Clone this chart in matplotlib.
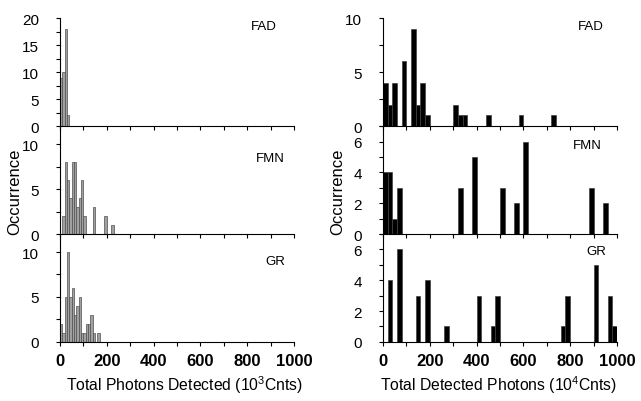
import numpy as np
import matplotlib
matplotlib.use("Agg")
import matplotlib.pyplot as plt
from matplotlib.ticker import MultipleLocator

plt.rcParams['font.family'] = ['Liberation Sans', 'DejaVu Sans']
plt.rcParams['mathtext.default'] = 'regular'

# left column: 10^3 counts, bins of width 10
left_bin = 10
fad_left = [9, 10, 18, 2]
fmn_left = [0, 2, 8, 6, 4, 8, 8, 3, 4, 6, 2, 0, 0, 0, 3, 0, 0, 0, 0, 2, 0, 0, 1]
gr_left = [2, 1, 5, 10, 5, 6, 3, 4, 5, 1, 1, 2, 2, 3, 1, 0, 1]

# right column: 10^4 counts, bins of width 20 (left edge, count)
right_bin = 20
fad_right_x = [0, 20, 40, 80, 120, 140, 160, 180, 300, 320, 340, 440, 580, 720]
fad_right_n = [4, 2, 4, 6, 9, 2, 4, 1, 2, 1, 1, 1, 1, 1]
fmn_right_x = [0, 20, 40, 60, 320, 380, 500, 560, 600, 880, 940]
fmn_right_n = [4, 4, 1, 3, 3, 5, 3, 2, 6, 3, 2]
gr_right_x = [20, 60, 140, 180, 260, 400, 460, 480, 760, 780, 900, 960, 980]
gr_right_n = [4, 6, 3, 4, 1, 3, 1, 3, 1, 3, 5, 3, 1]

names = ["FAD", "FMN", "GR"]


def style(ax, ymax, major, minor, bottom):
    ax.patch.set_visible(False)
    ax.set_xlim(0, 1000)
    ax.set_ylim(0, ymax)
    ax.spines['top'].set_visible(False)
    ax.spines['right'].set_visible(False)
    ax.xaxis.set_major_locator(MultipleLocator(200))
    ax.xaxis.set_minor_locator(MultipleLocator(100))
    ax.yaxis.set_major_locator(MultipleLocator(major))
    ax.yaxis.set_minor_locator(MultipleLocator(minor))
    ax.tick_params(which='both', direction='out', length=3, width=0.8)
    ax.tick_params(axis='y', labelsize=11, pad=12)
    if bottom:
        ax.tick_params(axis='x', labelsize=12, pad=5)
        for t in ax.get_xticklabels():
            t.set_fontweight('bold')
    else:
        ax.tick_params(axis='x', labelbottom=False)


fig = plt.figure(figsize=(6.41, 4.02), dpi=100)
x0_left, x0_right, w = 0.0936, 0.5975, 0.365
bot, h = 0.147, 0.2683

left_data = [fad_left, fmn_left, gr_left]
left_ymax = [20, 12, 12]
left_major = [5, 5, 5]
left_minor = [2.5, 2.5, 2.5]
left_lab = [(0.87, 0.93), (0.90, 0.705), (0.92, 0.75)]

right_data = [(fad_right_x, fad_right_n), (fmn_right_x, fmn_right_n), (gr_right_x, gr_right_n)]
right_ymax = [10, 7, 7]
right_major = [5, 2, 2]
right_minor = [2.5, 1, 1]
right_lab = [(0.887, 0.93), (0.873, 0.824), (0.91, 0.844)]

for i in range(3):
    y0 = bot + (2 - i) * h
    ax = fig.add_axes([x0_left, y0, w, h])
    counts = left_data[i]
    edges = np.arange(len(counts)) * left_bin
    ax.bar(edges, counts, width=left_bin, align='edge', color='#a0a0a0',
           edgecolor='#505050', linewidth=0.5)
    style(ax, left_ymax[i], left_major[i], left_minor[i], i == 2)
    ax.text(left_lab[i][0], left_lab[i][1], names[i], transform=ax.transAxes,
            ha='center', va='center', fontsize=9.5)
    if i == 1:
        ax.set_ylabel("Occurrence", fontsize=12)
        ax.yaxis.set_label_coords(-0.163, 0.4)
    if i == 2:
        ax.set_xlabel("Total Photons Detected (10$^3$Cnts)", fontsize=11.3)
        ax.xaxis.set_label_coords(0.534, -0.29)

    ax = fig.add_axes([x0_right, y0, w, h])
    xs, ns = right_data[i]
    ax.bar(xs, ns, width=right_bin, align='edge', color='black',
           edgecolor='#404040', linewidth=0.5)
    style(ax, right_ymax[i], right_major[i], right_minor[i], i == 2)
    ax.text(right_lab[i][0], right_lab[i][1], names[i], transform=ax.transAxes,
            ha='center', va='center', fontsize=9.5)
    if i == 1:
        ax.set_ylabel("Occurrence", fontsize=12)
        ax.yaxis.set_label_coords(-0.16, 0.4)
    if i == 2:
        ax.set_xlabel("Total Detected Photons (10$^4$Cnts)", fontsize=11.3)
        ax.xaxis.set_label_coords(0.496, -0.29)

fig.savefig("out.png", dpi=100)
